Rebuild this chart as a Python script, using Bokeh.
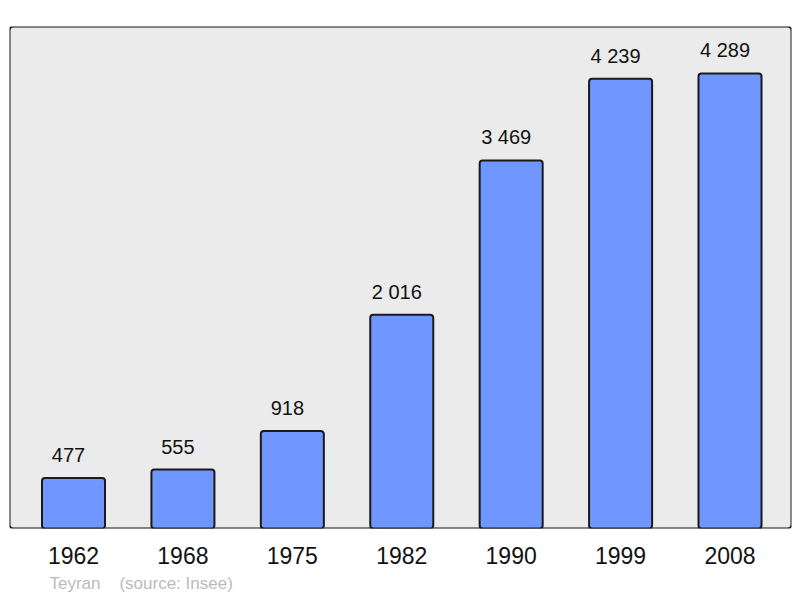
from bokeh.plotting import figure
from bokeh.models import FixedTicker, BoxAnnotation, Title, Range1d, ColumnDataSource
from bokeh.core.properties import value
from bokeh.embed import file_html
from bokeh.resources import INLINE

years = ["1962", "1968", "1975", "1982", "1990", "1999", "2008"]
population = [477, 555, 918, 2016, 3469, 4239, 4289]
value_labels = ["477", "555", "918", "2 016", "3 469", "4 239", "4 289"]
commune = "Teyran"
source_text = "(source: Insee)"

FONT = "Liberation Sans"
xs = list(range(len(years)))

p = figure(width=800, height=598, output_backend="svg", toolbar_location=None,
           x_range=Range1d(-0.585, 6.562), y_range=Range1d(0, 4732),
           min_border_left=9, min_border_right=9, min_border_top=26, min_border_bottom=70)
p.background_fill_color = "white"
p.border_fill_color = "white"
p.outline_line_color = None
p.xgrid.visible = False
p.ygrid.visible = False
p.yaxis.visible = False

frame_box = BoxAnnotation(fill_color="#ebebeb", fill_alpha=1.0, line_color="#1a1a1a",
                          line_alpha=1.0, line_width=2, border_radius=4, level="underlay")
p.add_layout(frame_box)

src = ColumnDataSource(dict(x=xs, top=population, lab=value_labels))
p.vbar(x="x", top="top", width=0.576, source=src, fill_color="#7096ff",
       line_color="#1a1a1a", line_width=2, border_radius=3)
p.text(x="x", y="top", text="lab", source=src, text_align="center",
       text_baseline="alphabetic", x_offset=-5, y_offset=-23, text_font_size="20px",
       text_font=value(FONT), text_color="#111111")

ax = p.xaxis[0]
ax.ticker = FixedTicker(ticks=xs)
ax.major_label_overrides = {i: y for i, y in enumerate(years)}
ax.axis_line_color = None
ax.major_tick_line_color = None
ax.minor_tick_line_color = None
ax.major_tick_in = 0
ax.major_tick_out = 0
ax.major_label_standoff = 18
ax.major_label_text_font_size = "23px"
ax.major_label_text_font = FONT
ax.major_label_text_color = "#111111"

footer = Title(text=commune + "\u00a0\u00a0\u00a0\u00a0" + source_text, align="left",
               offset=40, standoff=10, text_font_size="17px", text_font=FONT,
               text_color="#bbbbbb", text_font_style="normal")
p.add_layout(footer, "below")

open("out.html", "w").write(file_html(p, INLINE))
